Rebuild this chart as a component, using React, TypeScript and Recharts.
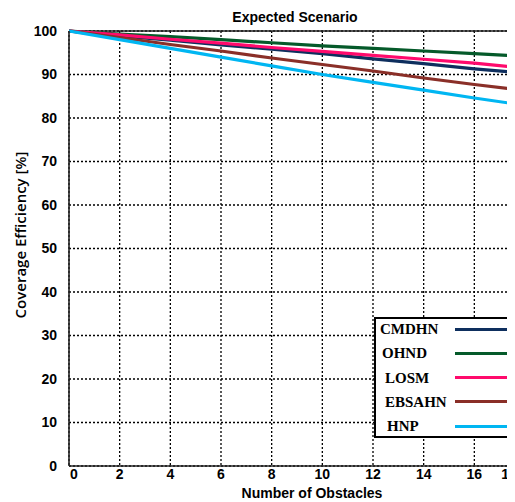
import React from "react";
import {
  LineChart,
  Line,
  XAxis,
  YAxis,
  CartesianGrid,
  ReferenceLine,
} from "recharts";

const obstacles = [0, 2, 4, 6, 8, 10, 12, 14, 16, 18];
const cmdhn = [100, 98.9, 97.9, 96.8, 95.8, 94.8, 93.6, 92.5, 91.3, 90.3];
const ohnd = [100, 99.3, 98.7, 98.0, 97.3, 96.6, 96.0, 95.4, 94.8, 94.2];
const losm = [100, 99.1, 98.1, 97.2, 96.2, 95.3, 94.4, 93.5, 92.6, 91.5];
const ebsahn = [100, 98.5, 96.9, 95.4, 93.8, 92.3, 90.8, 89.2, 87.7, 86.3];
const hnp = [100, 98.0, 96.0, 94.0, 92.0, 90.0, 88.2, 86.4, 84.6, 82.9];

const xTicks = [0, 2, 4, 6, 8, 10, 12, 14, 16, 18];
const yTicks = [0, 10, 20, 30, 40, 50, 60, 70, 80, 90, 100];

const series = [
  { key: "CMDHN", color: "#0e2f5e", values: cmdhn, textLeft: 6 },
  { key: "OHND", color: "#055a2a", values: ohnd, textLeft: 8 },
  { key: "LOSM", color: "#ff0a6c", values: losm, textLeft: 11 },
  { key: "EBSAHN", color: "#8a2f28", values: ebsahn, textLeft: 11 },
  { key: "HNP", color: "#00b6f2", values: hnp, textLeft: 13 },
];

const data = obstacles.map((x, i) => {
  const row: Record<string, number> = { x };
  series.forEach((s) => {
    row[s.key] = s.values[i];
  });
  return row;
});

const sans = "'Liberation Sans', Arial, sans-serif";
const serif = "'Liberation Serif', 'Times New Roman', serif";

// x tick labels: first one sits a bit right, last one pulled left (as in the original)
const XTick = (props: any) => {
  const { x, y, payload } = props;
  let dx = 0;
  if (payload.value === 0) dx = 5;
  if (payload.value === 18) dx = -13;
  return (
    <text
      x={x + dx}
      y={y}
      dy="0.71em"
      textAnchor="middle"
      fill="#000"
      fontSize={14}
      fontWeight="bold"
      fontFamily={sans}
    >
      {payload.value}
    </text>
  );
};

export default function App() {
  return (
    <div
      style={{
        position: "relative",
        width: 507,
        height: 494,
        overflow: "hidden",
        fontFamily: sans,
      }}
    >
      <LineChart
        width={522}
        height={494}
        data={data}
        margin={{ top: 23, right: 5, left: 0, bottom: 0 }}
      >
        <CartesianGrid
          stroke="#000"
          strokeWidth={1.3}
          strokeDasharray="2 2"
          verticalValues={xTicks}
          horizontalValues={yTicks}
        />
        <XAxis
          dataKey="x"
          type="number"
          domain={[0, 18]}
          ticks={xTicks}
          height={36}
          tickLine={false}
          tickSize={0}
          tickMargin={3}
          axisLine={{ stroke: "#222", strokeWidth: 1.6 }}
          tick={<XTick />}
        />
        <YAxis
          type="number"
          domain={[0, 100]}
          ticks={yTicks}
          width={61}
          tickLine={false}
          tickSize={6}
          tickMargin={6}
          axisLine={{ stroke: "#222", strokeWidth: 1.6 }}
          tick={{ fill: "#000", fontSize: 14, fontWeight: "bold", fontFamily: sans }}
        />
        <ReferenceLine y={100} stroke="#222" strokeWidth={1.6} />
        {series.map((s) => (
          <Line
            key={s.key}
            dataKey={s.key}
            stroke={s.color}
            strokeWidth={3.2}
            dot={false}
            type="linear"
            isAnimationActive={false}
          />
        ))}
      </LineChart>

      {/* Title */}
      <div
        style={{
          position: "absolute",
          left: 287,
          top: 9,
          transform: "translate(-50%, -50%)",
          fontSize: 14,
          fontWeight: "bold",
          whiteSpace: "nowrap",
        }}
      >
        Expected Scenario
      </div>

      {/* Y axis label */}
      <div
        style={{
          position: "absolute",
          left: 12,
          top: 227,
          transform: "translate(-50%, -50%) rotate(-90deg)",
          fontSize: 15,
          fontWeight: 600,
          fontFamily: "'Open Sans', sans-serif",
          whiteSpace: "nowrap",
        }}
      >
        Coverage Efficiency [%]
      </div>

      {/* X axis label */}
      <div
        style={{
          position: "absolute",
          left: 304,
          top: 485,
          transform: "translate(-50%, -50%)",
          fontSize: 14,
          fontWeight: "bold",
          whiteSpace: "nowrap",
        }}
      >
        Number of Obstacles
      </div>

      {/* Legend */}
      <div
        style={{
          position: "absolute",
          left: 366,
          top: 309,
          width: 140,
          height: 121,
          boxSizing: "border-box",
          border: "2px solid #000",
          background: "#fff",
        }}
      >
        {series.map((s, i) => (
          <React.Fragment key={s.key}>
            <div
              style={{
                position: "absolute",
                left: s.textLeft - 2,
                top: 12 + i * 24.3 - 2,
                transform: "translateY(-50%)",
                fontFamily: serif,
                fontWeight: "bold",
                fontSize: 15,
                whiteSpace: "nowrap",
              }}
            >
              {s.key}
            </div>
            <div
              style={{
                position: "absolute",
                left: 79,
                top: 12 + i * 24.3 - 3.5,
                width: 60,
                height: 3,
                background: s.color,
              }}
            />
          </React.Fragment>
        ))}
      </div>
    </div>
  );
}
